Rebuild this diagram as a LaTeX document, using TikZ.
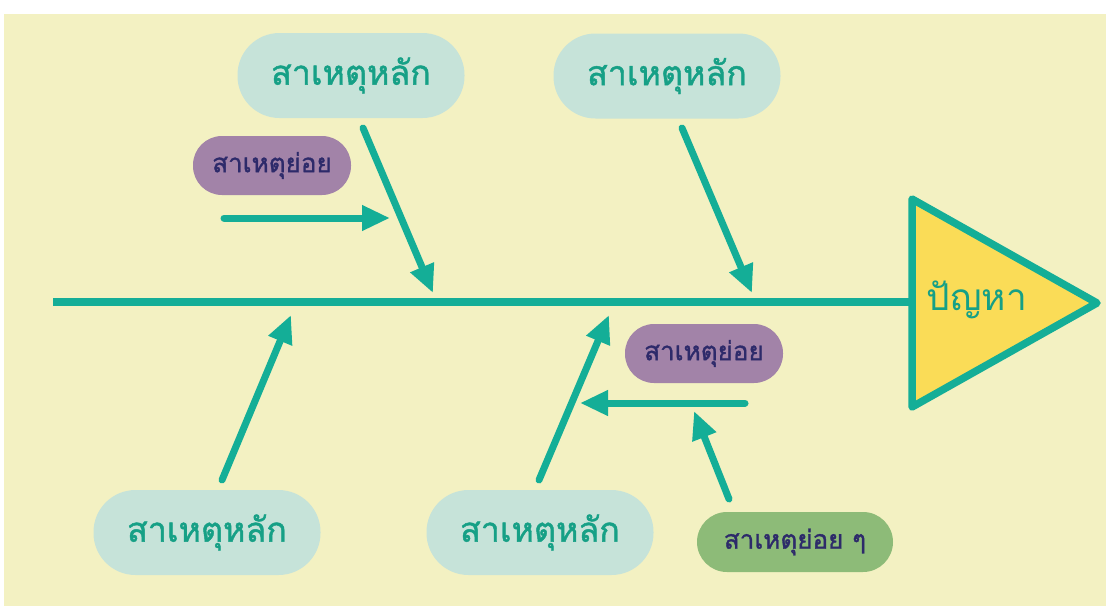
\documentclass[tikz,border=0pt]{standalone}
\usepackage{fontspec}
\newfontfamily\thaifont[Script=Thai]{Loma}
\newfontfamily\thaimed[Script=Thai,FakeBold=1.3]{Loma}
\usetikzlibrary{arrows.meta}
\definecolor{bg}{HTML}{F3F1C2}
\definecolor{teal}{HTML}{14AE97}
\definecolor{tealtext}{HTML}{16A086}
\definecolor{boxgreen}{HTML}{C6E3D9}
\definecolor{subpurple}{HTML}{A283A8}
\definecolor{subtext}{HTML}{2D2A6A}
\definecolor{subgreen}{HTML}{8DBB78}
\definecolor{probyellow}{HTML}{FADC57}
\tikzset{
  mainbox/.style={draw=none, fill=boxgreen, rounded corners=42pt, minimum width=227pt, minimum height=85pt, inner sep=0pt, text=tealtext, font=\thaimed\fontsize{34}{38}\selectfont},
  subbox/.style={draw=none, fill=subpurple, rounded corners=29pt, minimum width=158pt, minimum height=59pt, inner sep=0pt, text=subtext, font=\thaimed\fontsize{26}{28}\selectfont},
  subsubbox/.style={subbox, fill=subgreen, minimum width=196pt, minimum height=60pt, rounded corners=30pt},
  bone/.style={draw=teal, line width=7pt, line cap=round, -{Triangle[length=28pt,width=24pt]}},
  spine/.style={draw=teal, line width=7.5pt},
}
\begin{document}
\begin{tikzpicture}[x=1pt,y=-1pt]
\useasboundingbox (0,0) rectangle (1106,606);
\fill[white] (0,0) rectangle (1106,606);
\fill[bg] (4,14) rectangle (1106,606);

% main causes
\node[mainbox] (m1) at (351,75.5) {สาเหตุหลัก};
\node[mainbox] (m2) at (667,76) {สาเหตุหลัก};
\node[mainbox] (m3) at (207,532.5) {สาเหตุหลัก};
\node[mainbox] (m4) at (540,532.5) {สาเหตุหลัก};

% sub causes
\node[subbox] (s1) at (272,165.5) {สาเหตุย่อย};
\node[subbox] (s2) at (704,353.5) {สาเหตุย่อย};
\node[subsubbox] (ss) at (795,542) {สาเหตุย่อย ๆ};

% problem head
\coordinate (t1) at (912,199);
\coordinate (t2) at (912,407);
\coordinate (t3) at (1097,303);
\filldraw[fill=probyellow, draw=teal, line width=7.5pt, line join=round] (t1) -- (t3) -- (t2) -- cycle;
\node[text=tealtext, font=\thaifont\fontsize{37}{40}\selectfont, inner sep=0pt] (prob) at (977,300) {ปัญหา};

% spine
\coordinate (sp0) at (53,302);
\coordinate (sp1) at (912,302);
\draw[spine] (sp0) -- (sp1);

% bones
\coordinate (a1s) at (363,128); \coordinate (a1e) at (433,293);
\coordinate (a2s) at (682,128); \coordinate (a2e) at (752,293);
\coordinate (a3s) at (222,480); \coordinate (a3e) at (291,315);
\coordinate (a4s) at (539,480); \coordinate (a4e) at (609,315);
\draw[bone] (a1s) -- (a1e);
\draw[bone] (a2s) -- (a2e);
\draw[bone] (a3s) -- (a3e);
\draw[bone] (a4s) -- (a4e);

% sub bones
\coordinate (b1s) at (224,218); \coordinate (b1e) at (390,218);
\coordinate (b2s) at (745,403); \coordinate (b2e) at (580,403);
\coordinate (b3s) at (729,499); \coordinate (b3e) at (694,411);
\draw[bone] (b1s) -- (b1e);
\draw[bone] (b2s) -- (b2e);
\draw[bone] (b3s) -- (b3e);
\end{tikzpicture}
\end{document}
